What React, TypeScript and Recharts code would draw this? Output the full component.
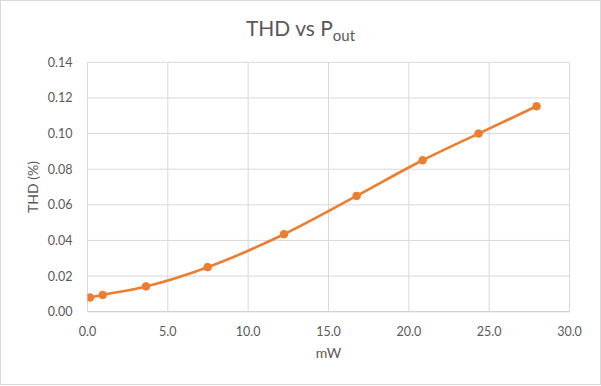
import React from "react";
import { LineChart, Line, XAxis, YAxis, CartesianGrid } from "recharts";

const powerMw = [0.16, 0.95, 3.64, 7.48, 12.23, 16.75, 20.86, 24.34, 27.95];
const thdPct = [0.008, 0.0094, 0.0142, 0.025, 0.0435, 0.065, 0.085, 0.1, 0.1153];
const xTicks = [0, 5, 10, 15, 20, 25, 30];
const yTicks = [0, 0.02, 0.04, 0.06, 0.08, 0.1, 0.12, 0.14];

const data = powerMw.map((x, i) => ({ x, thd: thdPct[i] }));

const FONT = "Lato, 'Open Sans', sans-serif";
const TXT = "#595959";

export default function App() {
  return (
    <div style={{ position: "absolute", left: 0, top: 0, width: 601, height: 386, background: "#fff", fontFamily: FONT }}>
      <LineChart
        width={601}
        height={386}
        data={data}
        margin={{ top: 62.3, right: 31.5, bottom: 44.3, left: 0 }}
      >
        <CartesianGrid stroke="#d9d9d9" strokeWidth={1} />
        <XAxis
          type="number"
          dataKey="x"
          domain={[0, 30]}
          ticks={xTicks}
          tickFormatter={(v: number) => v.toFixed(1)}
          height={30}
          tickLine={false}
          tickSize={0}
          tickMargin={15}
          axisLine={{ stroke: "#cfcfcf" }}
          tick={{ fill: TXT, fontSize: 12.5, fontFamily: FONT }}
          allowDataOverflow
        />
        <YAxis
          type="number"
          domain={[0, 0.14]}
          ticks={yTicks}
          tickFormatter={(v: number) => v.toFixed(2)}
          width={87.5}
          tickLine={false}
          tickSize={0}
          tickMargin={15}
          axisLine={{ stroke: "#d9d9d9" }}
          tick={{ fill: TXT, fontSize: 12.5, fontFamily: FONT }}
          allowDataOverflow
        />
        <Line
          type="monotone"
          dataKey="thd"
          stroke="#ED7D31"
          strokeWidth={2.6}
          dot={{ r: 3.8, fill: "#ED7D31", stroke: "#ED7D31", strokeWidth: 1 }}
          isAnimationActive={false}
        />
      </LineChart>
      <div
        style={{
          position: "absolute",
          left: 0,
          top: 13,
          width: 601,
          textAlign: "center",
          fontSize: 21,
          color: TXT,
          lineHeight: "30px",
          whiteSpace: "nowrap",
        }}
      >
        THD vs P<sub style={{ fontSize: 15, verticalAlign: "-5px", lineHeight: 0 }}>out</sub>
      </div>
      <div
        style={{
          position: "absolute",
          left: 228.5,
          top: 344,
          width: 200,
          textAlign: "center",
          fontSize: 14,
          color: TXT,
          lineHeight: "18px",
        }}
      >
        mW
      </div>
      <div
        style={{
          position: "absolute",
          left: 33 - 50,
          top: 187 - 9,
          width: 100,
          height: 18,
          textAlign: "center",
          fontSize: 14,
          color: TXT,
          lineHeight: "18px",
          transform: "rotate(-90deg)",
          transformOrigin: "50% 50%",
        }}
      >
        THD (%)
      </div>
      <div
        style={{
          position: "absolute",
          left: 0,
          top: 0,
          width: 601,
          height: 385,
          boxSizing: "border-box",
          border: "1px solid #d9d9d9",
          pointerEvents: "none",
        }}
      />
    </div>
  );
}
